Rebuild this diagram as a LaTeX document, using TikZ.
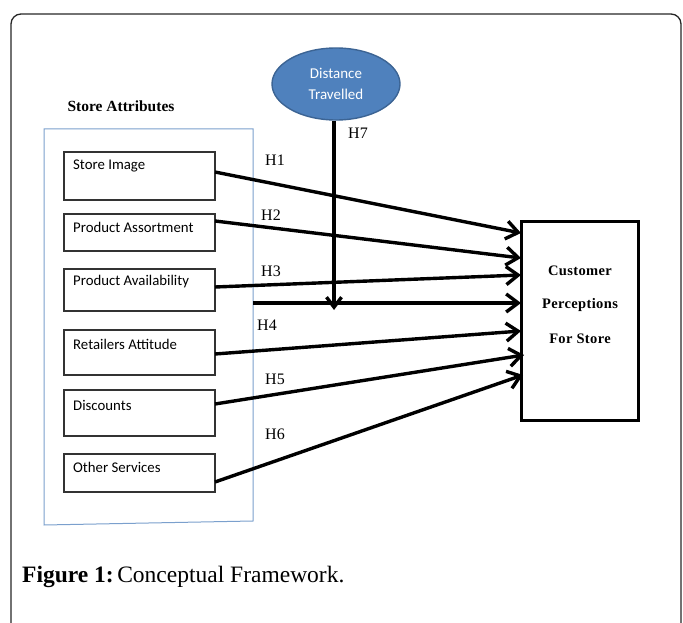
\documentclass[tikz,border=0pt]{standalone}
\usepackage{fontspec}
\setmainfont{Liberation Serif}
\newfontfamily\calib{Carlito}
\usetikzlibrary{arrows.meta,shapes.geometric}
\definecolor{ellfill}{HTML}{4F81BD}
\definecolor{elldraw}{HTML}{3C6494}
\definecolor{attrblue}{HTML}{7BA0CD}
\tikzset{
  attrbox/.style={draw=black!80,line width=1.2pt,minimum width=151pt,inner sep=0pt},
  attrtext/.style={anchor=west,inner sep=0pt,font=\calib\fontsize{14.8}{16}\selectfont},
  hlabel/.style={inner sep=0pt,font=\fontsize{16}{18}\selectfont},
  hyp/.style={line width=3.4pt,-{Straight Barb[length=12pt,width=18pt]}},
  custtext/.style={inner sep=0pt,font=\bfseries\fontsize{14.5}{16}\selectfont\addfontfeature{LetterSpace=2.5}},
}
\begin{document}
\begin{tikzpicture}[x=1pt,y=-1pt]
\useasboundingbox (0,0) rectangle (683,623);
% outer frame
\draw[line width=1.3pt,black!85,rounded corners=10pt] (11,630) -- (11,14) -- (681,14) -- (681,630);
% store attributes container
\draw[attrblue,line width=1pt] (44,129) -- (253,129) -- (253,521) -- (44,525) -- cycle;
\node[inner sep=0pt,font=\bfseries\fontsize{15.5}{17}\selectfont] (sa) at (121,106) {Store Attributes};
% distance ellipse
\node[ellipse,fill=ellfill,draw=elldraw,line width=1.4pt,minimum width=128pt,minimum height=72pt,inner sep=0pt,align=center,text=white,font=\calib\fontsize{15}{21}\selectfont] (dt) at (336,84) {Distance\\Travelled};
% attribute boxes
\node[attrbox,minimum height=48pt] (b1) at (139.5,176) {};
\node[attrbox,minimum height=37pt] (b2) at (139.5,232.5) {};
\node[attrbox,minimum height=42pt] (b3) at (139.5,290) {};
\node[attrbox,minimum height=45pt] (b4) at (139.5,352.5) {};
\node[attrbox,minimum height=46pt] (b5) at (139.5,413) {};
\node[attrbox,minimum height=38pt] (b6) at (139.5,473) {};
\node[attrtext] (t1) at (73,166) {Store Image};
\node[attrtext] (t2) at (73,227) {Product Assortment};
\node[attrtext] (t3) at (73,282) {Product Availability};
\node[attrtext] (t4) at (73,344) {Retailers Attitude};
\node[attrtext] (t5) at (73,405) {Discounts};
\node[attrtext] (t6) at (73,467) {Other Services};
% customer box
\node[draw=black,line width=2.2pt,minimum width=117pt,minimum height=199pt,inner sep=0pt] (cp) at (580,321) {};
\node[custtext] (c1) at (580,271) {Customer};
\node[custtext] (c2) at (580,305) {Perceptions};
\node[custtext] (c3) at (580,339) {For Store};
% arrow endpoints
\coordinate (s1) at (215,172);
\coordinate (s2) at (215,221);
\coordinate (s3) at (215,287);
\coordinate (s0) at (253,303);
\coordinate (s4) at (215,354);
\coordinate (s5) at (215,404);
\coordinate (s6) at (215,482);
\coordinate (e1) at (521,233);
\coordinate (e2) at (521,258);
\coordinate (e3) at (521,275);
\coordinate (e0) at (521,303);
\coordinate (e4) at (521,331);
\coordinate (e5) at (524,355);
\coordinate (e6) at (523,375);
\coordinate (d7) at (334,310);
\draw[hyp] (s1) -- (e1);
\draw[hyp] (s2) -- (e2);
\draw[hyp] (s3) -- (e3);
\draw[hyp] (s0) -- (e0);
\draw[hyp] (s4) -- (e4);
\draw[hyp] (s5) -- (e5);
\draw[hyp] (s6) -- (e6);
\draw[line width=3.4pt,-{Straight Barb[length=10pt,width=15pt]}] (dt.south -| d7) -- (d7);
% labels
\node[hlabel] (h1) at (275,160) {H1};
\node[hlabel] (h2) at (271,215) {H2};
\node[hlabel] (h3) at (271,271) {H3};
\node[hlabel] (h4) at (267,325) {H4};
\node[hlabel] (h5) at (275,379) {H5};
\node[hlabel] (h6) at (275,434) {H6};
\node[hlabel] (h7) at (358,133) {H7};
% caption
\node[anchor=west,inner sep=0pt,font=\fontsize{23.5}{25}\selectfont] (cap) at (22,577) {\textbf{Figure 1:}\hspace{0.15em}Conceptual Framework.};
\end{tikzpicture}
\end{document}
